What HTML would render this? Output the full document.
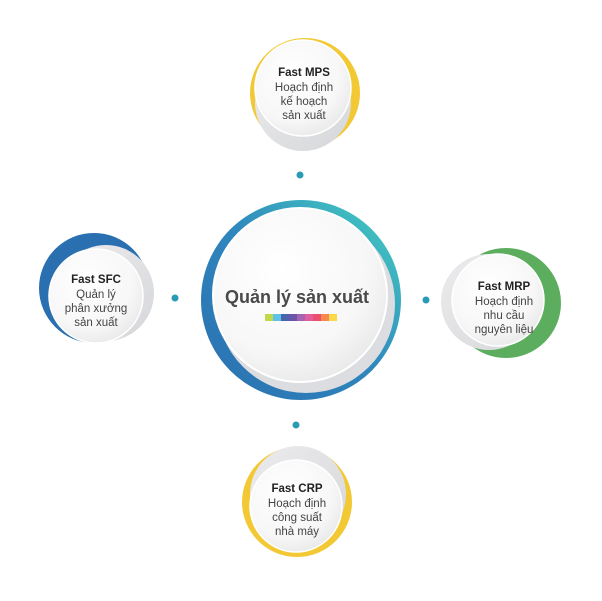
<!DOCTYPE html>
<html><head><meta charset="utf-8"><style>
html,body{margin:0;padding:0;background:#fff;}
svg{display:block;}
text{font-family:"Liberation Sans",sans-serif;fill:#333;}
.t{font-weight:bold;font-size:11.5px;fill:#222;}
.b{font-size:11.5px;fill:#444;}
</style></head><body>
<svg width="602" height="601" viewBox="0 0 602 601" xmlns="http://www.w3.org/2000/svg">
<defs>
<radialGradient id="w" cx="0.4" cy="0.35" r="0.7">
<stop offset="0" stop-color="#ffffff"/><stop offset="0.7" stop-color="#f7f7f7"/><stop offset="1" stop-color="#e8e8e8"/>
</radialGradient>
<linearGradient id="ring" x1="0" y1="1" x2="1" y2="0">
<stop offset="0" stop-color="#2a6fb0"/><stop offset="0.5" stop-color="#2f86bd"/><stop offset="0.85" stop-color="#3fbcc0"/><stop offset="1" stop-color="#8fd8d8"/>
</linearGradient>
<linearGradient id="gs" x1="0" y1="0" x2="1" y2="1">
<stop offset="0" stop-color="#ececee"/><stop offset="1" stop-color="#d6d7da"/>
</linearGradient>
</defs>

<circle cx="301" cy="300" r="100" fill="url(#ring)"/>
<circle cx="306" cy="304" r="89" fill="#dcdde0"/>
<circle cx="300" cy="295" r="87" fill="url(#w)" stroke="#fff" stroke-width="2"/>
<text x="297" y="303" text-anchor="middle" style="font-weight:bold;font-size:18px;fill:#4a4a4a">Quản lý sản xuất</text>
<g>
<rect x="265" y="314" width="8" height="7" fill="#c2d84a"/>
<rect x="273" y="314" width="8" height="7" fill="#5ec3e8"/>
<rect x="281" y="314" width="8" height="7" fill="#4a64ad"/>
<rect x="289" y="314" width="8" height="7" fill="#6a55a8"/>
<rect x="297" y="314" width="8" height="7" fill="#a762b0"/>
<rect x="305" y="314" width="8" height="7" fill="#e05ea0"/>
<rect x="313" y="314" width="8" height="7" fill="#ec4e6e"/>
<rect x="321" y="314" width="8" height="7" fill="#f68a4c"/>
<rect x="329" y="314" width="8" height="7" fill="#fbd94a"/>
</g>

<circle cx="300" cy="175" r="3.5" fill="#2b9bb5"/>
<circle cx="175" cy="298" r="3.5" fill="#2b9bb5"/>
<circle cx="426" cy="300" r="3.5" fill="#2b9bb5"/>
<circle cx="296" cy="425" r="3.5" fill="#2b9bb5"/>

<circle cx="305" cy="93" r="55" fill="#f2c935"/>
<circle cx="303" cy="103" r="48" fill="url(#gs)"/>
<circle cx="303" cy="88" r="48" fill="url(#w)" stroke="#fff" stroke-width="1.5"/>
<text x="304" y="76" text-anchor="middle" class="t">Fast MPS</text>
<text x="304" y="91" text-anchor="middle" class="b">Hoạch định</text>
<text x="304" y="105" text-anchor="middle" class="b">kế hoạch</text>
<text x="304" y="119" text-anchor="middle" class="b">sản xuất</text>

<circle cx="94" cy="288" r="55" fill="#2a6fb0"/>
<circle cx="106" cy="293" r="48" fill="url(#gs)"/>
<circle cx="96" cy="296" r="47" fill="url(#w)" stroke="#fff" stroke-width="1.5"/>
<text x="96" y="283" text-anchor="middle" class="t">Fast SFC</text>
<text x="96" y="298" text-anchor="middle" class="b">Quản lý</text>
<text x="96" y="312" text-anchor="middle" class="b">phân xưởng</text>
<text x="96" y="326" text-anchor="middle" class="b">sản xuất</text>

<circle cx="506" cy="303" r="55" fill="#5cae5e"/>
<circle cx="489" cy="302" r="48" fill="url(#gs)"/>
<circle cx="498" cy="300" r="46" fill="url(#w)" stroke="#fff" stroke-width="1.5"/>
<text x="504" y="290" text-anchor="middle" class="t">Fast MRP</text>
<text x="504" y="305" text-anchor="middle" class="b">Hoạch định</text>
<text x="504" y="319" text-anchor="middle" class="b">nhu cầu</text>
<text x="504" y="333" text-anchor="middle" class="b">nguyên liệu</text>

<circle cx="297" cy="502" r="55" fill="#f2c935"/>
<circle cx="298" cy="494" r="48" fill="url(#gs)"/>
<circle cx="296" cy="506" r="46" fill="url(#w)" stroke="#fff" stroke-width="1.5"/>
<text x="297" y="492" text-anchor="middle" class="t">Fast CRP</text>
<text x="297" y="507" text-anchor="middle" class="b">Hoạch định</text>
<text x="297" y="521" text-anchor="middle" class="b">công suất</text>
<text x="297" y="535" text-anchor="middle" class="b">nhà máy</text>
</svg>
</body></html>
